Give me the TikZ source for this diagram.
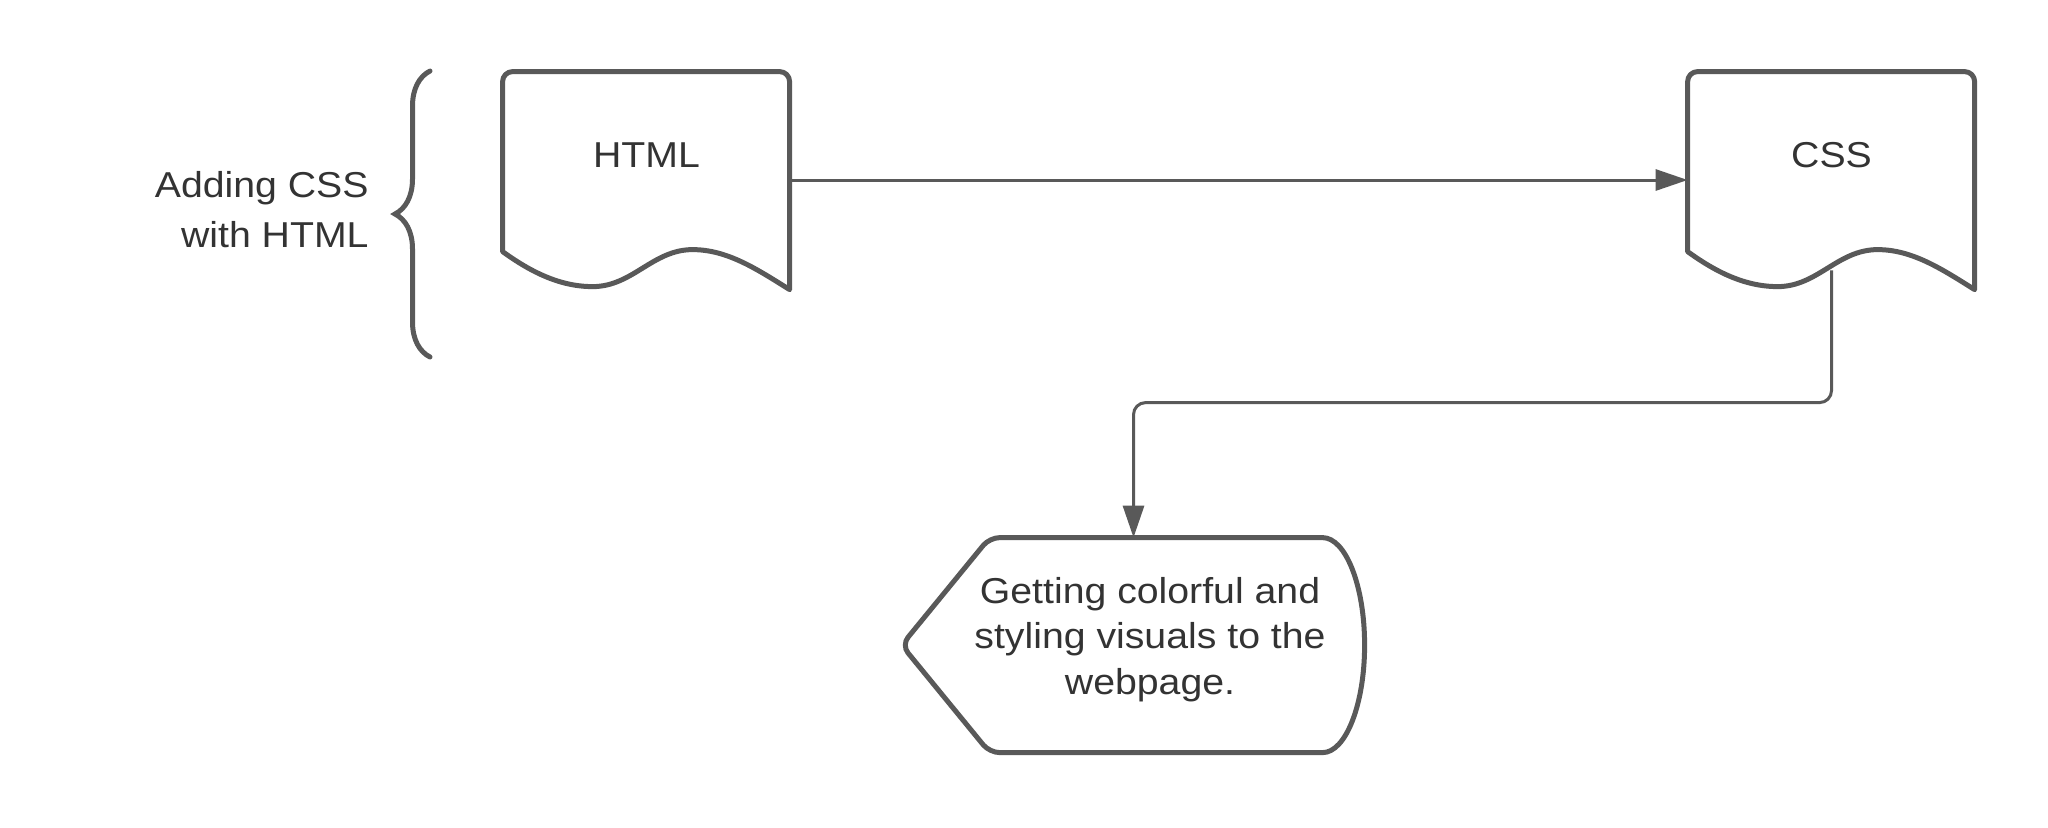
\documentclass[tikz,border=0pt]{standalone}
\usepackage{fontspec}
\setmainfont{Liberation Sans}[FakeStretch=1.09]
\usepackage{tikz}
\usetikzlibrary{arrows.meta, decorations.pathreplacing}
\definecolor{linegray}{HTML}{595959}
\definecolor{textgray}{HTML}{333333}

\begin{document}
\begin{tikzpicture}[x=0.5pt, y=-0.5pt,
doc/.style={minimum width=143.5pt, minimum height=108pt, inner sep=0pt},
outline/.style={draw=linegray, line width=2.5pt, line join=round},
link/.style={draw=linegray, line width=1.5pt, -{Triangle[length=16pt, width=10.5pt]}},
txt/.style={text=textgray, font=\fontsize{18}{22.75}\selectfont}]
\useasboundingbox (0,0) rectangle (2048,827);
\node[doc, label={[txt, yshift=12.5pt]center:HTML}] (html) at (646.5,180) {};
\node[doc, label={[txt, yshift=12.5pt]center:CSS}] (css) at (1831.5,180) {};
\node[doc, minimum width=231.5pt, minimum height=107.5pt,
  label={[txt, align=center, xshift=8.25pt, yshift=3pt]center:{Getting colorful and\\styling visuals to the\\webpage.}}] (web) at (1133.5,645.5) {};
\node[txt, font=\fontsize{18}{25}\selectfont, align=right, inner sep=0pt, anchor=east] (group) at (369,209.5) {Adding CSS\\with HTML};

% document shapes
\foreach \d in {html,css}
  \draw[outline, shift={(\d.north west)}]
    (0,180) [rounded corners=5pt] -- (0,0) -- (287,0) -- (287,100) [sharp corners] -- (287,218)
    .. controls (255,198) and (225,178) .. (190,178)
    .. controls (150,178) and (130,215) .. (90,215)
    .. controls (55,215) and (25,198) .. (0,180) -- cycle;

% display shape
\draw[outline, shift={(web.north west)}]
  (421,215) [rounded corners=5pt] -- (88,215) -- (0,107.5) -- (88,0) -- (300,0) [sharp corners] -- (421,0)
  .. controls (444,0) and (463,48) .. (463,107.5)
  .. controls (463,167) and (444,215) .. (421,215) -- cycle;

% brace
\draw[draw=linegray, line width=2.5pt, line cap=round, decorate,
  decoration={brace, amplitude=17.5pt}] (430,357) -- (430,71);

% connectors
\draw[link] (html) -- (css);
\draw[link, rounded corners=6pt] ([yshift=9pt]css.south) |- ([yshift=67.5pt]web.north) -- (web.north);
\end{tikzpicture}
\end{document}
